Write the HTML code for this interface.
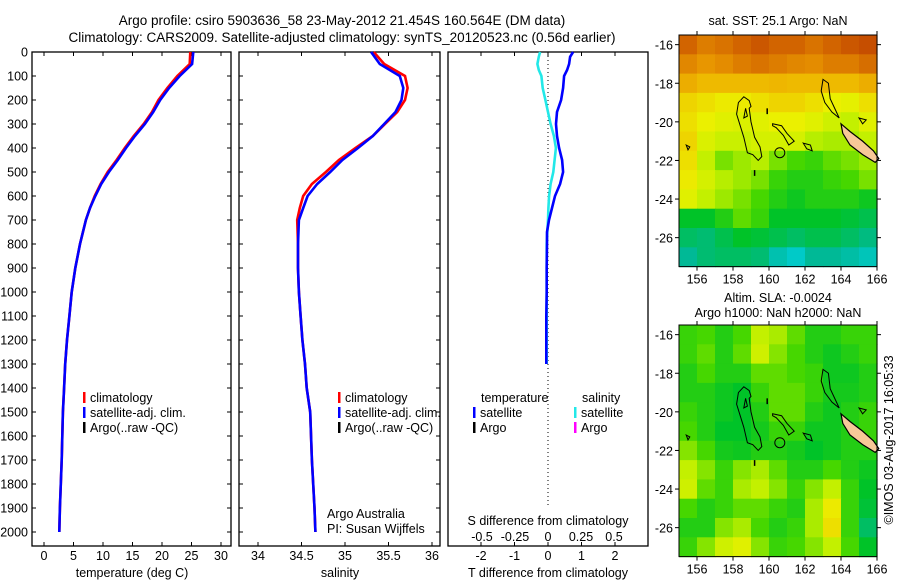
<!DOCTYPE html>
<html><head><meta charset="utf-8">
<style>
html,body{margin:0;padding:0;background:#fff;}
svg{display:block;font-family:"Liberation Sans",sans-serif;}
text{font-size:12.5px;fill:#000;}
</style></head>
<body>
<svg id="c" width="900" height="580" viewBox="0 0 900 580" xmlns="http://www.w3.org/2000/svg">
<rect width="900" height="580" fill="#fff"/>
<text x="342" y="25" text-anchor="middle" style="font-size:13.5px">Argo profile: csiro 5903636_58 23-May-2012 21.454S 160.564E (DM data)</text>
<text x="342" y="42" text-anchor="middle" style="font-size:13.5px">Climatology: CARS2009. Satellite-adjusted climatology: synTS_20120523.nc (0.56d earlier)</text>
<text x="778" y="25" text-anchor="middle">sat. SST: 25.1 Argo: NaN</text>
<text x="778" y="302" text-anchor="middle">Altim. SLA: -0.0024</text>
<text x="778" y="317" text-anchor="middle">Argo h1000: NaN h2000: NaN</text>
<text transform="translate(893,440) rotate(-90)" text-anchor="middle">©IMOS 03-Aug-2017 16:05:33</text>
<g id="g"></g>
</svg>
<script>
// ---- profile data (depth in m) ----
const depths=[0,50,100,150,200,250,300,350,400,450,500,550,600,650,700,800,900,1000,1100,1200,1300,1400,1500,1700,1900,2000];
const tempClim=[24.8,24.7,22.6,20.9,19.4,18.3,16.9,15.2,13.7,12.3,10.8,9.6,8.6,7.8,7.1,6.1,5.3,4.7,4.3,3.9,3.6,3.4,3.2,3.0,2.7,2.6];
const tempSat=[25.3,25.1,23.0,21.2,19.7,18.5,17.1,15.4,13.9,12.5,11.0,9.7,8.7,7.8,7.1,6.1,5.3,4.7,4.3,3.9,3.6,3.4,3.2,3.0,2.7,2.6];
const salClim=[35.33,35.45,35.69,35.72,35.69,35.60,35.46,35.32,35.12,34.93,34.78,34.62,34.52,34.48,34.45,34.46,34.46,34.47,34.49,34.51,34.54,34.56,34.60,34.62,34.65,34.66];
const salSat=[35.30,35.40,35.63,35.67,35.65,35.58,35.45,35.32,35.15,34.97,34.83,34.68,34.57,34.52,34.47,34.46,34.46,34.47,34.49,34.51,34.54,34.56,34.60,34.62,34.65,34.66];
const diffDepths=[0,20,50,75,100,150,200,250,300,350,400,450,500,550,600,650,700,750,800,900,1000,1100,1200,1300];
const tDiffSat=[0.75,0.66,0.63,0.57,0.48,0.45,0.39,0.27,0.24,0.27,0.33,0.42,0.45,0.36,0.21,0.12,0.03,-0.03,-0.03,-0.04,-0.04,-0.05,-0.05,-0.05];
const sDiffSat=[-0.06,-0.07,-0.08,-0.07,-0.05,-0.04,-0.02,0,0.02,0.045,0.06,0.05,0.04,0.02,0.008,0.003,0,-0.005,-0.01,-0.01,-0.01,-0.01,-0.01,-0.01];
const depthTicks=[0,100,200,300,400,500,600,700,800,900,1000,1100,1200,1300,1400,1500,1600,1700,1800,1900,2000];
const tempTicks=[0,5,10,15,20,25,30];
const salTicks=[34,34.5,35,35.5,36];
const tdTicks=[-2,-1,0,1,2];
const sdTicks=[-0.5,-0.25,0,0.25,0.5];
const sdTickLabels=["-0.5","-0.25","0","0.25","0.5"];
// ---- map data (rows north->south, 1 deg each from -15.5; cols 155..166) ----
const mapLons=[155,156,157,158,159,160,161,162,163,164,165];
const mapLats=[-15.5,-16.5,-17.5,-18.5,-19.5,-20.5,-21.5,-22.5,-23.5,-24.5,-25.5,-26.5];
const sstGrid=[
[0.85,0.8,0.82,0.85,0.88,0.85,0.85,0.82,0.85,0.88,0.9],
[0.78,0.75,0.77,0.8,0.82,0.8,0.78,0.77,0.8,0.8,0.83],
[0.7,0.67,0.67,0.67,0.67,0.68,0.67,0.67,0.67,0.67,0.7],
[0.62,0.6,0.58,0.58,0.6,0.62,0.62,0.6,0.57,0.56,0.6],
[0.6,0.57,0.55,0.54,0.55,0.57,0.57,0.55,0.52,0.5,0.55],
[0.62,0.54,0.51,0.51,0.53,0.53,0.53,0.49,0.48,0.48,0.5],
[0.6,0.5,0.44,0.47,0.49,0.44,0.4,0.38,0.42,0.44,0.47],
[0.58,0.53,0.49,0.47,0.44,0.38,0.35,0.35,0.38,0.4,0.44],
[0.55,0.5,0.47,0.44,0.4,0.35,0.32,0.35,0.35,0.35,0.32],
[0.3,0.3,0.35,0.42,0.38,0.3,0.3,0.3,0.3,0.28,0.25],
[0.22,0.2,0.25,0.3,0.28,0.25,0.22,0.25,0.25,0.22,0.18],
[0.15,0.2,0.22,0.22,0.2,0.1,0.05,0.15,0.15,0.12,0.08]];
const slaGrid=[
[0.38,0.4,0.35,0.4,0.5,0.48,0.42,0.35,0.35,0.38,0.38],
[0.38,0.42,0.35,0.42,0.52,0.45,0.4,0.35,0.32,0.35,0.38],
[0.35,0.4,0.35,0.35,0.42,0.42,0.4,0.38,0.32,0.32,0.35],
[0.35,0.35,0.32,0.3,0.38,0.42,0.42,0.38,0.33,0.33,0.35],
[0.38,0.35,0.32,0.3,0.35,0.42,0.42,0.35,0.32,0.35,0.38],
[0.4,0.35,0.3,0.3,0.33,0.38,0.38,0.32,0.32,0.35,0.38],
[0.45,0.4,0.33,0.32,0.35,0.35,0.33,0.3,0.32,0.35,0.35],
[0.5,0.45,0.38,0.45,0.48,0.42,0.35,0.35,0.4,0.35,0.32],
[0.52,0.42,0.38,0.48,0.5,0.45,0.38,0.45,0.5,0.38,0.3],
[0.4,0.35,0.38,0.42,0.42,0.38,0.35,0.48,0.58,0.38,0.28],
[0.35,0.35,0.45,0.48,0.4,0.35,0.38,0.48,0.6,0.38,0.22],
[0.38,0.45,0.52,0.55,0.45,0.38,0.4,0.45,0.5,0.4,0.3]];
const lonTicks=[156,158,160,162,164,166];
const latTicks=[-16,-18,-20,-22,-24,-26];

const NS="http://www.w3.org/2000/svg";
const G=document.getElementById('g');
function mk(tag,attrs,parent){const e=document.createElementNS(NS,tag);for(const k in attrs)e.setAttribute(k,attrs[k]);(parent||G).appendChild(e);return e;}
function txt(x,y,s,anchor,parent){const t=mk('text',{x:x,y:y,'text-anchor':anchor||'middle'},parent);t.textContent=s;return t;}

const top0=52, bot0=546;
const yD=d=>52+0.24*d;
const xT=t=>44+5.9*t;
const xS=s=>258+87*(s-34);
const xTD=v=>548+33.5*v;
const xSD=v=>548+132*v;

function panel(x0,x1,name){
  const r=mk('rect',{x:x0,y:top0,width:x1-x0,height:bot0-top0,fill:'none',stroke:'#000','stroke-width':1.3});
  
  
}
panel(32,231,'temperature-panel');
panel(239,440,'salinity-panel');
panel(448,648,'difference-panel');

depthTicks.forEach(d=>{
  const y=yD(d);
  mk('line',{x1:32,x2:36,y1:y,y2:y,stroke:'#000'});
  mk('line',{x1:227,x2:231,y1:y,y2:y,stroke:'#000'});
  mk('line',{x1:239,x2:243,y1:y,y2:y,stroke:'#000'});
  mk('line',{x1:436,x2:440,y1:y,y2:y,stroke:'#000'});
  const t=txt(28,y+4.5,String(d),'end');
  
  
});
function xticks(vals,fn,labels,ly){
  vals.forEach((v,i)=>{
    const x=fn(v);
    mk('line',{x1:x,x2:x,y1:top0,y2:top0+4,stroke:'#000'});
    mk('line',{x1:x,x2:x,y1:bot0,y2:bot0-4,stroke:'#000'});
    const t=txt(x,ly,labels?labels[i]:String(v));
    
    
  });
}
xticks(tempTicks,xT,null,560);
xticks(salTicks,xS,null,560);
tdTicks.forEach(v=>{const x=xTD(v);
  mk('line',{x1:x,x2:x,y1:top0,y2:top0+4,stroke:'#000'});
  mk('line',{x1:x,x2:x,y1:bot0,y2:bot0-4,stroke:'#000'});
  const t=txt(x,560,String(v));
  
  
});
sdTicks.forEach((v,i)=>{const t=txt(xSD(v),541,sdTickLabels[i]);
  
  
});
let t;
t=txt(132,577,'temperature (deg C)');
t=txt(340,577,'salinity');
t=txt(548,577,'T difference from climatology');
t=txt(548,525,'S difference from climatology');
t=txt(327,518,'Argo Australia','start');
t=txt(327,533,'PI: Susan Wijffels','start');

mk('line',{x1:548,x2:548,y1:top0,y2:505,stroke:'#000','stroke-dasharray':'1,3'});

function line(xs,ds,fx,color,name){
  const pts=xs.map((v,i)=>fx(v).toFixed(1)+','+yD(ds[i]).toFixed(1)).join(' ');
  const p=mk('polyline',{points:pts,fill:'none',stroke:color,'stroke-width':2.6});
  
  
}
line(tempClim,depths,xT,'#ff0000','temperature-climatology-line');
line(tempSat,depths,xT,'#0000ff','temperature-satellite-line');
line(salClim,depths,xS,'#ff0000','salinity-climatology-line');
line(salSat,depths,xS,'#0000ff','salinity-satellite-line');
line(sDiffSat,diffDepths,xSD,'#22e8e8','salinity-diff-satellite-line');
line(tDiffSat,diffDepths,xTD,'#0000ff','temperature-diff-satellite-line');

function leg(x,y,color,label,name){
  mk('rect',{x:x,y:y-10,width:2.5,height:11,fill:color});
  const t=txt(x+7,y,label,'start');
  
  
}
leg(83,402,'#ff0000','climatology','legend-climatology');
leg(83,417,'#0000ff','satellite-adj. clim.','legend-satellite-adj');
leg(83,432,'#000','Argo(..raw -QC)','legend-argo');
leg(338,402,'#ff0000','climatology','legend2-climatology');
leg(338,417,'#0000ff','satellite-adj. clim.','legend2-satellite-adj');
leg(338,432,'#000','Argo(..raw -QC)','legend2-argo');
t=txt(481,402,'temperature','start');
t=txt(582,402,'salinity','start');
leg(473,417,'#0000ff','satellite','legend-t-satellite');
leg(473,432,'#000','Argo','legend-t-argo');
leg(574,417,'#22e8e8','satellite','legend-s-satellite');
leg(574,432,'#ff00ff','Argo','legend-s-argo');

const stops=[[0,[0,210,225]],[0.15,[0,185,150]],[0.3,[0,195,40]],[0.4,[70,215,0]],[0.5,[195,240,0]],[0.57,[235,240,0]],[0.65,[240,195,0]],[0.75,[232,150,0]],[0.85,[210,100,0]],[1,[175,35,0]]];
function cmap(v){
  for(let i=1;i<stops.length;i++){if(v<=stops[i][0]){const a=stops[i-1],b=stops[i];const f=(v-a[0])/(b[0]-a[0]);
    return 'rgb('+a[1].map((c,k)=>Math.round(c+f*(b[1][k]-c))).join(',')+')';}}
  return 'rgb(175,35,0)';
}
const coasts=[
 [[158.6,-18.7],[158.9,-18.9],[159.0,-19.2],[158.9,-19.3],[159.0,-20.0],[159.2,-20.8],[159.5,-21.3],[159.6,-21.8],[159.4,-22.0],[159.1,-21.7],[158.8,-21.6],[158.6,-20.8],[158.4,-20.2],[158.2,-19.6],[158.3,-19.0]],
 [[158.7,-19.3],[158.8,-19.7],[158.6,-19.8]],
 [[160.2,-20.1],[160.7,-20.2],[161.0,-20.6],[161.4,-21.0],[161.1,-21.2],[160.8,-20.7],[160.4,-20.3],[160.2,-20.2]],
 [[161.9,-21.1],[162.3,-21.2],[162.4,-21.5],[162.1,-21.4]],
 [[155.4,-21.2],[155.6,-21.3],[155.5,-21.45]],
 [[163.0,-17.8],[163.3,-18.0],[163.4,-18.8],[163.7,-19.4],[163.9,-19.8],[163.5,-19.5],[163.1,-19.0],[162.9,-18.4]],
 [[165.0,-19.8],[165.4,-19.9],[165.2,-20.1]]
];
const ncal=[[164.0,-20.1],[164.5,-20.5],[165.2,-21.0],[165.8,-21.5],[166.1,-21.9],[165.9,-22.1],[165.2,-21.7],[164.5,-21.2],[164.1,-20.6]];
function drawMap(grid,topY,name){
  const L=679,R=877, lon=v=>L+(v-155)*(R-L)/11, lat=v=>topY+(-15.5-v)*19.3;
  const g=mk('g',{});
  
  
  grid.forEach((row,i)=>row.forEach((v,j)=>{
    const x0=lon(mapLons[j]),y0=lat(mapLats[i]);
    mk('rect',{x:x0.toFixed(1),y:y0.toFixed(1),width:(lon(mapLons[j]+1)-x0+0.6).toFixed(1),height:(lat(mapLats[i]-1)-y0+0.6).toFixed(1),fill:cmap(v)},g);
  }));
  mk('polygon',{points:ncal.map(p=>lon(p[0])+','+lat(p[1])).join(' '),fill:'#f8c898',stroke:'#000','stroke-width':1.2},g);
  coasts.forEach(c=>mk('polygon',{points:c.map(p=>lon(p[0])+','+lat(p[1])).join(' '),fill:'none',stroke:'#000','stroke-width':1},g));
  mk('circle',{cx:lon(160.6),cy:lat(-21.6),r:5,fill:'none',stroke:'#000'},g);
  mk('line',{x1:lon(159.9),y1:lat(-19.3),x2:lon(159.9),y2:lat(-19.6),stroke:'#000','stroke-width':1.5},g);
  mk('line',{x1:lon(159.2),y1:lat(-22.5),x2:lon(159.2),y2:lat(-22.8),stroke:'#000','stroke-width':1.5},g);
  const B=lat(-27.5);
  mk('rect',{x:L,y:topY,width:R-L,height:B-topY,fill:'none',stroke:'#000'},g);
  lonTicks.forEach(v=>{const x=lon(v);
    mk('line',{x1:x,x2:x,y1:topY,y2:topY-4,stroke:'#000'},g);
    mk('line',{x1:x,x2:x,y1:B,y2:B+4,stroke:'#000'},g);
    const t=txt(x,B+17,String(v),'middle',g);
    
    
  });
  latTicks.forEach(v=>{const y=lat(v);
    mk('line',{x1:L,x2:L-4,y1:y,y2:y,stroke:'#000'},g);
    mk('line',{x1:R,x2:R+4,y1:y,y2:y,stroke:'#000'},g);
    const t=txt(L-6,y+5,String(v),'end',g);
    
    
  });
}
drawMap(sstGrid,35,'sst-map');
drawMap(slaGrid,325,'sla-map');
</script>
</body></html>
